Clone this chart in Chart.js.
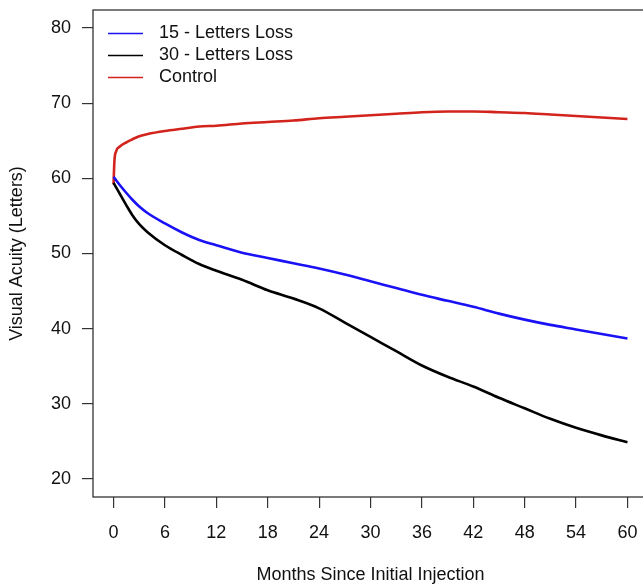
<!DOCTYPE html>
<html>
<head>
<meta charset="utf-8">
<script src="https://cdn.jsdelivr.net/npm/chart.js@4.4.1/dist/chart.umd.min.js"></script>
<style>
  html, body { margin: 0; padding: 0; background: #fff; overflow: hidden; }
  #wrap { width: 650px; height: 586px; }
</style>
</head>
<body>
<div id="wrap"><canvas id="acuityChart" width="650" height="586"></canvas></div>
<script>
// months since initial injection (x positions of the sampled points)
const months = [0, 0.1, 0.3, 0.7, 1.5, 2.2, 3, 4, 6, 8, 10, 12, 15, 18, 21, 24, 27, 30, 33, 36, 39, 42, 45, 48, 51, 54, 57, 60];

const loss15 = [60.2, 60.05, 59.75, 59.15, 58.05, 57.15, 56.25, 55.35, 54.0, 52.8, 51.8, 51.1, 50.1, 49.4, 48.7, 48.0, 47.2, 46.3, 45.4, 44.5, 43.7, 42.9, 42.0, 41.2, 40.5, 39.9, 39.3, 38.7];
const loss30 = [59.4, 59.2, 58.8, 58.0, 56.4, 55.1, 53.9, 52.8, 51.1, 49.8, 48.6, 47.7, 46.5, 45.1, 44.0, 42.7, 40.8, 38.9, 37.0, 35.1, 33.6, 32.3, 30.8, 29.4, 28.0, 26.8, 25.8, 24.9];
const control = [59.2, 62.3, 63.6, 64.2, 64.8, 65.2, 65.6, 65.9, 66.3, 66.6, 66.9, 67.0, 67.3, 67.5, 67.7, 68.0, 68.2, 68.4, 68.6, 68.8, 68.9, 68.9, 68.8, 68.7, 68.5, 68.3, 68.1, 67.9];

const seriesNames = ["15 - Letters Loss", "30 - Letters Loss", "Control"];
const seriesColors = ["#1a12f5", "#000000", "#d2231c"];

const xTicks = [0, 6, 12, 18, 24, 30, 36, 42, 48, 54, 60];
const yTicks = [20, 30, 40, 50, 60, 70, 80];

const FONT = "'Liberation Sans', Arial, sans-serif";

function toPoints(values) {
    return values.map(function (v, i) { return { x: months[i], y: v }; });
}

// R style box around the plot region plus the legend in the top left corner
const boxAndLegend = {
    id: "boxAndLegend",
    afterDraw: function (chart) {
        const ctx = chart.ctx;
        const area = chart.chartArea;
        ctx.save();
        ctx.strokeStyle = "#333";
        ctx.lineWidth = 1.3;
        ctx.strokeRect(area.left, area.top, area.right - area.left, area.bottom - area.top);

        ctx.font = "18px " + FONT;
        ctx.textBaseline = "middle";
        ctx.textAlign = "left";
        chart.data.datasets.forEach(function (ds, i) {
            const y = Math.round(area.top + 23 + i * 22) + 0.5;
            ctx.strokeStyle = ds.borderColor;
            ctx.lineWidth = 1.3;
            ctx.beginPath();
            ctx.moveTo(area.left + 15, y);
            ctx.lineTo(area.left + 50, y);
            ctx.stroke();
            ctx.fillStyle = "#111";
            ctx.fillText(ds.label, area.left + 66, y);
        });
        ctx.restore();
    }
};

document.addEventListener("DOMContentLoaded", function () {
    const canvas = document.getElementById("acuityChart");
    if (!canvas) {
        console.error("Canvas 'acuityChart' not found.");
        return;
    }

    const datasets = [loss15, loss30, control].map(function (vals, i) {
        return {
            label: seriesNames[i],
            data: toPoints(vals),
            borderColor: seriesColors[i],
            borderWidth: 2.6,
            pointRadius: 0,
            fill: false,
            cubicInterpolationMode: "monotone"
        };
    });

    new Chart(canvas, {
        type: "line",
        data: { datasets: datasets },
        plugins: [boxAndLegend],
        options: {
            responsive: false,
            animation: false,
            layout: { padding: { top: 10, right: 2, left: 0, bottom: 0 } },
            plugins: {
                legend: { display: false },
                tooltip: { enabled: false }
            },
            scales: {
                x: {
                    type: "linear",
                    min: -2.4,
                    max: 62.4,
                    afterBuildTicks: function (scale) {
                        scale.ticks = xTicks.map(function (v) { return { value: v }; });
                    },
                    afterFit: function (scale) {
                        scale.height = 89;
                        scale.paddingLeft = 0;
                        scale.paddingRight = 0;
                    },
                    border: { display: false },
                    grid: { drawOnChartArea: false, drawTicks: true, tickLength: 11, color: "#333", lineWidth: 1.2 },
                    ticks: { color: "#111", font: { size: 18, family: FONT }, padding: 14, maxRotation: 0, autoSkip: false },
                    title: { display: true, text: "Months Since Initial Injection", color: "#111", font: { size: 18, family: FONT }, padding: { top: 0, bottom: 0 } }
                },
                y: {
                    min: 17.6,
                    max: 82.4,
                    afterBuildTicks: function (scale) {
                        scale.ticks = yTicks.map(function (v) { return { value: v }; });
                    },
                    afterFit: function (scale) {
                        scale.width = 93;
                        scale.paddingTop = 0;
                        scale.paddingBottom = 0;
                    },
                    border: { display: false },
                    grid: { drawOnChartArea: false, drawTicks: true, tickLength: 11, color: "#333", lineWidth: 1.2 },
                    ticks: { color: "#111", font: { size: 18, family: FONT }, padding: 11 },
                    title: { display: true, text: "Visual Acuity (Letters)", color: "#111", font: { size: 18, family: FONT }, padding: { top: 6, bottom: 0 } }
                }
            }
        }
    });
});
</script>
</body>
</html>
